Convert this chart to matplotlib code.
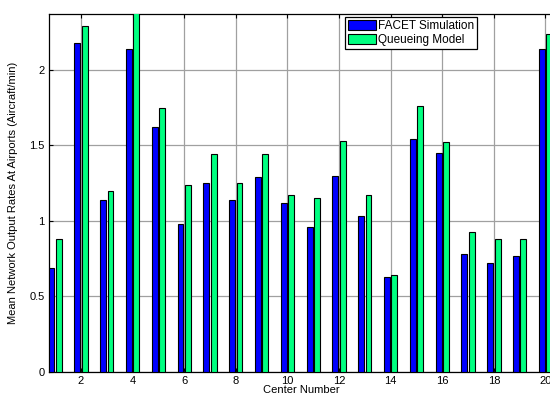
import numpy as np
import matplotlib
matplotlib.use("Agg")
import matplotlib.pyplot as plt

plt.rcParams['font.family'] = ['Liberation Sans', 'DejaVu Sans']

centers = np.arange(1, 21)
facet_sim = [0.69, 2.18, 1.14, 2.14, 1.62, 0.98, 1.25, 1.14, 1.29, 1.12,
             0.96, 1.30, 1.03, 0.63, 1.54, 1.45, 0.78, 0.72, 0.77, 2.14]
queue_model = [0.88, 2.29, 1.20, 2.45, 1.75, 1.24, 1.44, 1.25, 1.44, 1.17,
               1.15, 1.53, 1.17, 0.64, 1.76, 1.52, 0.93, 0.88, 0.88, 2.24]
series_names = ["FACET Simulation", "Queueing Model"]
xticks = np.arange(2, 21, 2)
yticks = [0, 0.5, 1, 1.5, 2]

fig = plt.figure(figsize=(5.5, 3.96), dpi=100)
ax = fig.add_axes([49 / 550, 1 - 372 / 396, 505 / 550, 358 / 396])

offset = 0.143
width = 0.229
ax.bar(centers - offset, facet_sim, width, color='#0000ff', edgecolor='black',
       linewidth=0.8, label=series_names[0], zorder=3)
ax.bar(centers + offset, queue_model, width, color='#00ff80', edgecolor='black',
       linewidth=0.8, label=series_names[1], zorder=3)

ax.set_xlim(0.76, 20.33)
ax.set_ylim(0, 2.37)
ax.set_xticks(xticks)
ax.set_yticks(yticks)
ax.set_yticklabels(['0', '0.5', '1', '1.5', '2'])
ax.grid(True, color='#a0a0a0', linewidth=0.9, zorder=0)
ax.tick_params(direction='in', length=3, labelsize=8, top=True, right=False,
               pad=3, color='black')
for side in ['left', 'bottom', 'top']:
    ax.spines[side].set_linewidth(0.9)
ax.spines['right'].set_visible(False)

ax.set_xlabel("Center Number", fontsize=8, labelpad=-1)
ax.set_ylabel("Mean Network Output Rates At Airports (Aircraft/min)",
              fontsize=8, labelpad=8)

leg = ax.legend(loc='upper left', bbox_to_anchor=(345 / 550, 1 - 17 / 396),
                bbox_transform=fig.transFigure, fontsize=8.5, frameon=True,
                fancybox=False, edgecolor='black', framealpha=1,
                borderpad=0.25, handlelength=2.4, handleheight=0.9,
                handletextpad=0.15, labelspacing=0.15, borderaxespad=0)
leg.get_frame().set_linewidth(0.9)
leg.set_zorder(5)

fig.savefig("out.png", dpi=100)
